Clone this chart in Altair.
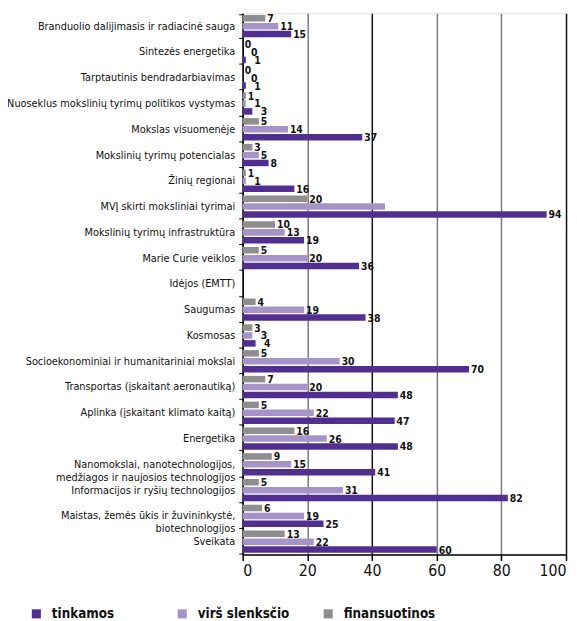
import altair as alt
import pandas as pd

categories = [
    "Branduolio dalijimasis ir radiacinė sauga",
    "Sintezės energetika",
    "Tarptautinis bendradarbiavimas",
    "Nuoseklus mokslinių tyrimų politikos vystymas",
    "Mokslas visuomenėje",
    "Mokslinių tyrimų potencialas",
    "Žinių regionai",
    "MVĮ skirti moksliniai tyrimai",
    "Mokslinių tyrimų infrastruktūra",
    "Marie Curie veiklos",
    "Idėjos (EMTT)",
    "Saugumas",
    "Kosmosas",
    "Socioekonominiai ir humanitariniai mokslai",
    "Transportas (įskaitant aeronautiką)",
    "Aplinka (įskaitant klimato kaitą)",
    "Energetika",
    "Nanomokslai, nanotechnologijos,|medžiagos ir naujosios technologijos",
    "Informacijos ir ryšių technologijos",
    "Maistas, žemės ūkis ir žuvininkystė,|biotechnologijos",
    "Sveikata",
]
tinkamos = [15, 1, 1, 3, 37, 8, 16, 94, 19, 36, None, 38, 4, 70, 48, 47, 48, 41, 82, 25, 60]
virs_slenkscio = [11, 0, 0, 1, 14, 5, 1, 44, 13, 20, None, 19, 3, 30, 20, 22, 26, 15, 31, 19, 22]
finansuotinos = [7, 0, 0, 1, 5, 3, 1, 20, 10, 5, None, 4, 3, 5, 7, 5, 16, 9, 5, 6, 13]
# value labels not printed in the original
hidden_labels = [("MVĮ skirti moksliniai tyrimai", "virš slenksčio")]

series_names = ["tinkamos", "virš slenksčio", "finansuotinos"]
series_colors = ["#532e91", "#a694c9", "#8e8e90"]
bar_order = ["finansuotinos", "virš slenksčio", "tinkamos"]

rows = []
for i, c in enumerate(categories):
    for s, vals in zip(series_names, [tinkamos, virs_slenkscio, finansuotinos]):
        v = vals[i]
        if v is None:
            continue
        lab = "" if (c, s) in hidden_labels else str(v)
        rows.append({"kategorija": c, "serija": s, "reiksme": v, "zyme": lab})
df = pd.DataFrame(rows)

FONT = "DejaVu Sans Condensed"

y_enc = alt.Y("kategorija:N", sort=categories,
              scale=alt.Scale(domain=categories, paddingInner=0.08, paddingOuter=0.04),
              axis=alt.Axis(title=None, labelExpr="split(datum.label, '|')",
                            tickBand="extent", labelFont=FONT, labelFontSize=11,
                            labelColor="#111", tickColor="black", tickSize=4,
                            domainColor="black", domainWidth=1.5, labelPadding=4,
                            labelLimit=300, grid=False, labelLineHeight=13))
yoff = alt.YOffset("serija:N", sort=bar_order,
                   scale=alt.Scale(domain=bar_order, paddingInner=0, paddingOuter=0))
x_enc = alt.X("reiksme:Q", scale=alt.Scale(domain=[0, 100], nice=False),
              axis=alt.Axis(title=None, values=[0, 20, 40, 60, 80, 100],
                            labelFont=FONT, labelFontSize=16, labelColor="#111",
                            tickColor="black", tickSize=6, tickWidth=1.5,
                            domainColor="black", domainWidth=1.5, labelPadding=2,
                            grid=True, gridWidth=1.5,
                            gridColor=alt.condition("datum.value == 40 || datum.value == 100",
                                                    alt.value("#111111"), alt.value("#7a7a7a"))))

bars = alt.Chart(df).mark_bar(size=6.6).encode(
    y=y_enc, yOffset=yoff, x=x_enc,
    color=alt.Color("serija:N",
                    scale=alt.Scale(domain=series_names, range=series_colors),
                    legend=alt.Legend(title=None, orient="none", direction="horizontal",
                                      legendX=-216, legendY=602, symbolType="square",
                                      symbolSize=85, symbolStrokeWidth=0, symbolOpacity=1,
                                      labelFont=FONT, labelFontSize=13.5, labelFontWeight="bold",
                                      labelColor="#111", columnPadding=32, labelOffset=9,
                                      gridAlign="all")),
)

# small labels are staggered sideways as in the original
labels = alt.Chart(df).transform_filter("datum.zyme != ''").transform_calculate(
    lx="datum.reiksme + (datum.serija == 'virš slenksčio' && datum.reiksme <= 3 ? 2 : 0)"
       " + (datum.serija == 'tinkamos' && datum.reiksme <= 4 ? 2 : 0)"
).mark_text(
    align="left", baseline="middle", dx=2, dy=1, font=FONT, fontSize=10.5,
    fontWeight="bold", color="#111"
).encode(y=alt.Y("kategorija:N", sort=categories), yOffset=alt.YOffset("serija:N", sort=bar_order),
         x=alt.X("lx:Q"), text="zyme:N")

chart = alt.layer(bars, labels).properties(
    width=328, height=549,
    autosize=alt.AutoSizeParams(type="none"),
    padding={"left": 238, "top": 1, "right": 3, "bottom": 62},
).configure_view(stroke=None).configure(background="white")

chart.save("out.html", embed_options={"renderer": "svg", "actions": False})
